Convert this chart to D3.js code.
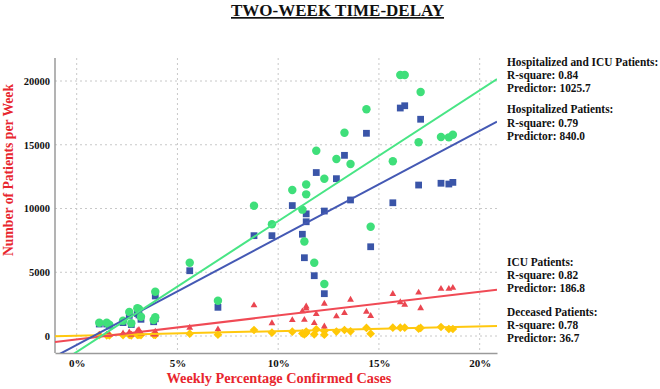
<!DOCTYPE html>
<html>
<head>
<meta charset="utf-8">
<script src="https://cdn.jsdelivr.net/npm/d3@7"></script>
<style>
  body { margin: 0; background: #fff; }
  svg { display: block; font-family: "Liberation Serif", "Times New Roman", serif; }
</style>
</head>
<body>
<div id="chart"></div>
<script>
// Weekly percentage of confirmed cases (x) and patients per week two weeks later (y)
const pctCases = [1.12, 1.49, 1.62, 2.30, 2.61, 2.71, 3.01, 3.09, 3.19, 3.82, 3.90, 3.90,
  5.61, 7.01, 8.80, 9.69, 10.70, 11.20, 11.30, 11.39, 11.39, 11.79, 11.89, 12.29, 12.29,
  12.89, 13.29, 13.59, 14.38, 14.59, 15.69, 16.06, 16.28, 16.97, 17.07, 18.08, 18.47, 18.67];
const hospIcu = [1040, 1040, 890, 1200, 1880, 1000, 2170, 2120, 1510, 1250, 1470, 3470,
  5750, 2770, 10220, 8760, 11450, 9910, 7410, 11880, 11110, 5750, 14530, 12340, 4080,
  13880, 15940, 13490, 17780, 8570, 13700, 20470, 20470, 15190, 19140, 15610, 15580, 15790];
const hosp = [940, 940, 790, 1050, 1620, 900, 1770, 1650, 1310, 1120, 1350, 3140,
  5120, 2250, 7870, 7870, 10230, 7980, 6140, 9580, 8960, 4730, 12820, 9800, 3320,
  12340, 14170, 10670, 15900, 7000, 10450, 17880, 18060, 11840, 17000, 11980, 11920, 12050];
const icu = [100, 100, 100, 200, 290, 100, 400, 470, 200, 130, 120, 340,
  650, 520, 2400, 1000, 1250, 1930, 1270, 2320, 2160, 1010, 1720, 2530, 750,
  1545, 1800, 2850, 1900, 1570, 3300, 2650, 2450, 3400, 2180, 3700, 3700, 3780];
const deceased = [60, 50, 40, 70, 80, 50, 90, 80, 70, 100, 90, 100,
  180, 100, 470, 260, 340, 200, 120, 350, 235, 130, 525, 390, 100,
  350, 470, 370, 630, 180, 650, 650, 650, 570, 630, 705, 550, 550];

// Linear fits: predictor = slope per 1 % of weekly confirmed cases
const fitNames = ["Hospitalized and ICU Patients:", "Hospitalized Patients:", "ICU Patients:", "Deceased Patients:"];
const fitRSquare = ["0.84", "0.79", "0.82", "0.78"];
const fitSlope = [1025.7, 840.0, 186.8, 36.7];
const fitIntercept = [-1250, -700, -260, 20];

const xTicks = [0, 5, 10, 15, 20];
const yTicks = [0, 5000, 10000, 15000, 20000];

const colors = ["#3fdf7a", "#3a55a8", "#ea4650", "#ffc805"];
const lineColors = ["#48e585", "#4459b4", "#f04a55", "#ffc80f"];

const width = 660;
const height = 389;
const marginTop = 58;
const marginRight = 163;
const marginBottom = 36;
const marginLeft = 55;

const x = d3.scaleLinear()
  .domain([-1.077, 20.86])
  .range([marginLeft, width - marginRight]);

const y = d3.scaleLinear()
  .domain([-1333, 21804])
  .range([height - marginBottom, marginTop]);

const svg = d3.select("#chart")
  .append("svg")
  .attr("width", width)
  .attr("height", height)
  .attr("viewBox", [0, 0, width, height]);

svg.append("defs").append("clipPath")
  .attr("id", "plot-clip")
  .append("rect")
  .attr("x", marginLeft)
  .attr("y", marginTop)
  .attr("width", width - marginRight - marginLeft)
  .attr("height", height - marginBottom - marginTop);

// Grid
const grid = svg.append("g")
  .attr("stroke", "#c8c8c8")
  .attr("stroke-width", 1)
  .attr("stroke-dasharray", "2,3");

grid.selectAll("line.h")
  .data(yTicks)
  .join("line")
  .attr("class", "h")
  .attr("x1", marginLeft)
  .attr("x2", width - marginRight)
  .attr("y1", d => y(d))
  .attr("y2", d => y(d));

grid.selectAll("line.v")
  .data(xTicks)
  .join("line")
  .attr("class", "v")
  .attr("x1", d => x(d))
  .attr("x2", d => x(d))
  .attr("y1", marginTop)
  .attr("y2", height - marginBottom);

// Axes
const yAxis = svg.append("g")
  .attr("transform", `translate(${marginLeft},0)`)
  .call(d3.axisLeft(y).tickValues(yTicks).tickFormat(d3.format("d")).tickSize(0).tickSizeOuter(0).tickPadding(5));

const xAxis = svg.append("g")
  .attr("transform", `translate(0,${height - marginBottom})`)
  .call(d3.axisBottom(x).tickValues(xTicks).tickFormat(d => d + "%").tickSize(0).tickSizeOuter(0).tickPadding(6));

[xAxis, yAxis].forEach(ax => {
  ax.select(".domain").attr("stroke", "#9a9a9a").attr("stroke-width", 1.5);
  ax.selectAll("text")
    .attr("font-family", "Liberation Serif, Times New Roman, serif")
    .attr("font-weight", "bold")
    .attr("fill", "#111");
});
yAxis.selectAll("text").attr("font-size", 10.5);
xAxis.selectAll("text").attr("font-size", 11);
// y axis line only spans the plot height
yAxis.select(".domain").attr("d", `M0,${marginTop}V${height - marginBottom}`);

// Points
const rows = pctCases.map((p, i) => ({ p, v: [hospIcu[i], hosp[i], icu[i], deceased[i]] }));

const symbols = [
  d3.symbol(d3.symbolCircle, 56),
  d3.symbol(d3.symbolSquare, 46),
  d3.symbol(d3.symbolTriangle, 20),
  d3.symbol(d3.symbolSquare, 38)
];

// draw order: deceased, icu, hosp, hosp+icu
[3, 2, 1, 0].forEach(k => {
  svg.append("g")
    .attr("fill", colors[k])
    .selectAll("path")
    .data(rows)
    .join("path")
    .attr("d", symbols[k])
    .attr("transform", d => `translate(${x(d.p)},${y(d.v[k])})` + (k === 3 ? " rotate(45)" : ""));
});

// Fit lines
const lines = svg.append("g")
  .attr("clip-path", "url(#plot-clip)")
  .attr("fill", "none")
  .attr("stroke-width", 2);

[3, 2, 1, 0].forEach(k => {
  const [x0, x1] = x.domain();
  lines.append("line")
    .attr("stroke", lineColors[k])
    .attr("x1", x(x0))
    .attr("y1", y(fitIntercept[k] + fitSlope[k] * x0))
    .attr("x2", x(x1))
    .attr("y2", y(fitIntercept[k] + fitSlope[k] * x1));
});

// Fit annotations
const labelTop = [65.7, 113.3, 266, 315.7];
fitNames.forEach((name, k) => {
  const texts = [name, "R-square: " + fitRSquare[k], "Predictor: " + fitSlope[k].toFixed(1)];
  texts.forEach((t, j) => {
    svg.append("text")
      .attr("transform", `translate(507,${labelTop[k] + j * 13.2}) scale(0.91,1)`)
      .attr("font-size", 12.5)
      .attr("font-weight", "bold")
      .attr("fill", "#111")
      .text(t);
  });
});

// Title
svg.append("text")
  .attr("x", 231)
  .attr("y", 16)
  .attr("font-size", 17)
  .attr("font-weight", "bold")
  .attr("fill", "#111")
  .style("text-decoration", "underline")
  .text("TWO-WEEK TIME-DELAY");

// Axis titles
svg.append("text")
  .attr("x", 279)
  .attr("y", 383)
  .attr("text-anchor", "middle")
  .attr("font-size", 14.3)
  .attr("font-weight", "bold")
  .attr("fill", "#e8262e")
  .text("Weekly Percentage Confirmed Cases");

svg.append("text")
  .attr("transform", "translate(13,170) rotate(-90) scale(0.91,1)")
  .attr("text-anchor", "middle")
  .attr("font-size", 15)
  .attr("font-weight", "bold")
  .attr("fill", "#e8262e")
  .text("Number of Patients per Week");
</script>
</body>
</html>
